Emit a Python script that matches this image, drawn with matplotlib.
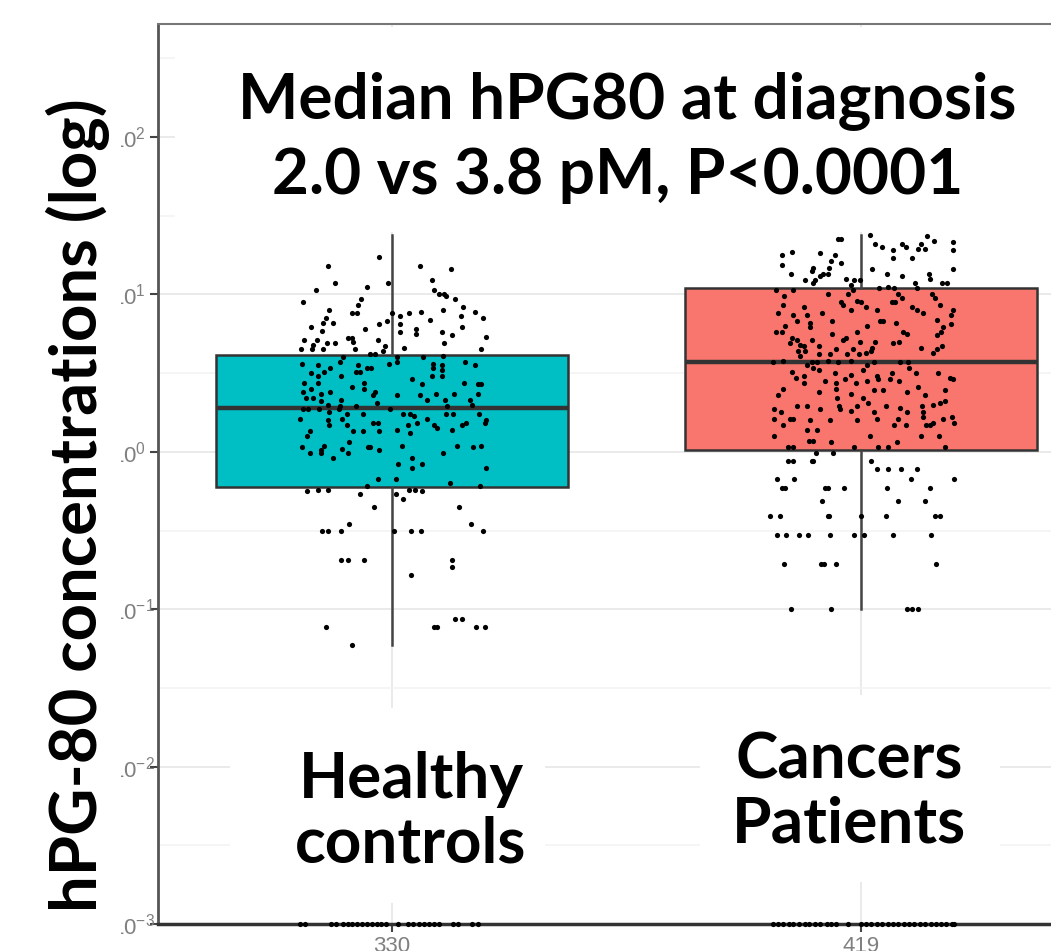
import numpy as np
import matplotlib
matplotlib.use("Agg")
import matplotlib.pyplot as plt
from matplotlib.patches import Rectangle
from matplotlib.ticker import LogLocator, NullFormatter, FixedLocator

# groups
groups = ["Healthy\ncontrols", "Cancers\nPatients"]
counts = ["330", "419"]
box_colors = ["#00BFC4", "#F8766D"]

# box statistics (pM)
q1 = [0.60, 1.03]
med = [1.9, 3.7]
q3 = [4.1, 11.0]
whis_lo = [0.059, 0.10]
whis_hi = [24.0, 24.0]

# jittered points: horizontal jitter offset and log10(pM)
healthy_dx = [
    -0.028, -0.136, 0.060, 0.126, -0.121, -0.009, 0.085, -0.162, -0.053, 0.089,
    0.100, 0.111, 0.115, 0.134, -0.066, -0.189, -0.072, 0.151, -0.134, -0.085,
    -0.074, 0.036, 0.062, 0.109, 0.177, 0.194, -0.140, 0.147, 0.017, 0.000,
    0.081, -0.147, -0.126, -0.028, -0.011, 0.017, -0.172, -0.149, -0.057, 0.051,
    0.149, 0.051, 0.106, 0.128, 0.017, 0.200, -0.094, -0.085, -0.187, -0.160,
    -0.121, -0.138, -0.030, -0.083, 0.111, -0.168, -0.194, -0.170, -0.147, -0.079,
    -0.015, -0.019, 0.026, 0.189, -0.047, -0.036, -0.104, 0.011, 0.066, 0.109,
    -0.191, -0.157, -0.132, -0.111, -0.072, -0.053, -0.045, -0.006, 0.011, 0.087,
    0.106, 0.155, 0.177, -0.145, -0.077, -0.068, 0.087, 0.106, -0.172, -0.157,
    -0.157, 0.085, 0.106, 0.043, -0.109, -0.187, -0.060, 0.183, 0.189, 0.153,
    0.064, -0.172, -0.085, -0.060, -0.132, -0.189, -0.151, -0.036, 0.011, 0.060,
    0.094, 0.132, 0.183, -0.183, -0.168, -0.109, -0.040, 0.074, 0.113, 0.166,
    -0.151, -0.032, -0.136, -0.111, -0.077, 0.117, 0.170, -0.189, -0.179, -0.155,
    -0.113, -0.004, 0.038, 0.047, 0.023, 0.115, 0.130, -0.096, -0.062, -0.134,
    0.185, -0.196, -0.136, -0.106, -0.040, -0.030, 0.053, 0.074, 0.157, 0.198,
    -0.134, -0.096, 0.149, 0.034, 0.089, 0.096, 0.128, 0.200, -0.174, -0.083,
    -0.062, 0.011, -0.181, -0.028, 0.038,
    -0.191, -0.174, -0.151, -0.145, -0.151, -0.126, -0.106, -0.094, -0.091, -0.051,
    -0.047, -0.028, 0.021, 0.013, 0.043, 0.043, 0.064, 0.109, 0.138, 0.172,
    0.189, 0.200, -0.030, 0.009, -0.053, 0.123, 0.187,
    -0.181, -0.157, -0.136, -0.068, -0.038, 0.009, 0.023, 0.036, 0.049, 0.064,
    0.143, -0.149, -0.136, -0.109, -0.091, 0.004, 0.040, 0.062, 0.168, 0.194,
    -0.109, -0.094, -0.060, 0.128, 0.128, 0.040, 0.134, 0.149, -0.140, 0.089,
    0.096, 0.179, 0.198, -0.085,
]
healthy_log = [
    1.24, 1.18, 1.18, 1.16, 1.07, 1.07, 1.09, 1.03, 1.05, 1.03,
    1.00, 1.00, 0.99, 0.97, 0.97, 0.95, 0.93, 0.92, 0.90, 0.88,
    0.88, 0.88, 0.89, 0.90, 0.89, 0.85, 0.85, 0.86, 0.86, 0.88,
    0.84, 0.82, 0.82, 0.81, 0.83, 0.81, 0.79, 0.77, 0.78, 0.78,
    0.79, 0.75, 0.76, 0.74, 0.76, 0.73, 0.72, 0.72, 0.71, 0.71,
    0.69, 0.69, 0.71, 0.70, 0.69, 0.68, 0.65, 0.65, 0.65, 0.65,
    0.67, 0.64, 0.66, 0.65, 0.62, 0.62, 0.60, 0.60, 0.60, 0.61,
    0.56, 0.55, 0.53, 0.57, 0.55, 0.53, 0.53, 0.56, 0.57, 0.56,
    0.55, 0.57, 0.55, 0.51, 0.51, 0.51, 0.53, 0.52, 0.50, 0.48,
    0.44, 0.48, 0.48, 0.46, 0.48, 0.44, 0.44, 0.43, 0.43, 0.44,
    0.43, 0.40, 0.41, 0.40, 0.38, 0.38, 0.37, 0.38, 0.36, 0.36,
    0.37, 0.37, 0.37, 0.34, 0.34, 0.33, 0.36, 0.33, 0.33, 0.33,
    0.32, 0.31, 0.30, 0.29, 0.29, 0.29, 0.30, 0.27, 0.27, 0.27,
    0.27, 0.27, 0.24, 0.23, 0.24, 0.24, 0.24, 0.24, 0.24, 0.25,
    0.24, 0.21, 0.20, 0.21, 0.18, 0.18, 0.18, 0.21, 0.18, 0.18,
    0.17, 0.17, 0.17, 0.17, 0.17, 0.15, 0.14, 0.20, 0.13, 0.13,
    0.13, 0.14, 0.10, 0.13, 0.12,
    0.03, -0.01, -0.01, 0.04, 0.01, -0.04, 0.02, -0.01, 0.06, 0.03,
    0.03, 0.01, 0.04, -0.08, -0.04, -0.10, -0.08, -0.01, 0.04, 0.03,
    0.04, -0.10, -0.17, -0.17, -0.22, -0.20, -0.22,
    -0.25, -0.24, -0.24, -0.27, -0.35, -0.27, -0.30, -0.24, -0.24, -0.25,
    -0.35, -0.50, -0.50, -0.50, -0.46, -0.50, -0.50, -0.50, -0.46, -0.50,
    -0.69, -0.69, -0.69, -0.69, -0.73, -0.78, -1.06, -1.06, -1.11, -1.11,
    -1.11, -1.11, -1.11, -1.23,
]
cancer_dx = [
    -0.049, -0.043, 0.019, 0.140, 0.155, 0.196, 0.196, 0.030, 0.043, 0.087,
    0.096, 0.128, 0.121, 0.136, 0.068, 0.068, 0.109, -0.147, -0.168, -0.087,
    -0.057, -0.170, -0.064, -0.043, -0.068, -0.102, -0.106, 0.196, 0.023, -0.149,
    -0.081, -0.070, -0.089, 0.055, 0.087, 0.145, 0.147, -0.119, -0.098, -0.032,
    -0.015, -0.002, 0.115, 0.172, 0.183, -0.102, -0.181, -0.145, -0.023, -0.028,
    -0.017, 0.038, 0.057, 0.070, 0.079, 0.087, 0.119, 0.151, -0.070, -0.164,
    -0.009, -0.043, 0.000, 0.066, 0.072, 0.157, -0.166, -0.123, -0.038, -0.023,
    0.011, 0.109, 0.119, 0.168, -0.177, -0.145, -0.115, -0.083, 0.034, 0.132,
    0.196, 0.191, -0.136, -0.109, -0.062, 0.040, 0.047, 0.074, 0.191, 0.162,
    -0.162, 0.013, -0.109, 0.174, -0.181, -0.168, -0.062, -0.009, 0.089, 0.098,
    0.170, -0.147, -0.136, -0.106, -0.032, -0.038, -0.002, 0.030, 0.068, 0.081,
    0.162, -0.151, -0.130, -0.123, -0.091, -0.053, -0.017, 0.023, 0.128, 0.172,
    -0.134, -0.119, -0.091, -0.066, -0.030, -0.006, 0.011, 0.021, 0.153, 0.162,
    -0.130, -0.166, -0.189, -0.106, -0.094, -0.072, -0.049, -0.023, 0.013, 0.026,
    0.083, 0.100, -0.115, -0.102, -0.091, 0.004, 0.066, 0.102, 0.117, -0.147,
    -0.123, -0.055, -0.023, 0.034, 0.062, 0.189, 0.164, -0.140, -0.123, -0.077,
    -0.034, -0.011, 0.013, 0.036, 0.081, 0.196, -0.166, -0.053, -0.053, 0.121,
    0.179, -0.091, 0.026, 0.047, 0.098, -0.177, -0.023, 0.004, 0.136, -0.051,
    -0.138, -0.115, -0.047, -0.045, -0.009, 0.015, 0.053, 0.083, 0.130, 0.153,
    0.168, 0.179, -0.187, -0.172, -0.087, -0.023, 0.026, 0.098, 0.132, 0.194,
    0.174, -0.151, -0.145, -0.109, -0.066, -0.009, 0.034, 0.079, 0.132, -0.187,
    -0.166, 0.070, 0.096, 0.138, 0.147, 0.153, 0.198, -0.187, -0.115, -0.094,
    -0.111, -0.102, -0.064, 0.019, 0.077, 0.128, 0.166, -0.157, -0.145, -0.015,
    0.036, 0.057, 0.179, -0.096, -0.060, -0.157, -0.145, -0.106, -0.102, 0.021,
    0.034, 0.057, 0.085, 0.119, -0.179, -0.143, 0.106, 0.198, -0.168, -0.162,
    -0.077, -0.070, -0.036, 0.055, 0.147, -0.083, 0.079, 0.136, -0.194, -0.174,
    -0.072, -0.068, 0.000, 0.053, 0.157, 0.168, -0.179, -0.160, -0.132, -0.113,
    -0.066, -0.015, 0.006, 0.068, 0.149, -0.164, -0.085, -0.079, -0.053, 0.160,
    -0.149, -0.064, 0.098, 0.109, 0.121,
]
cancer_log = [
    1.35, 1.35, 1.38, 1.37, 1.34, 1.33, 1.28, 1.32, 1.30, 1.32,
    1.30, 1.32, 1.29, 1.29, 1.28, 1.23, 1.23, 1.27, 1.25, 1.26,
    1.25, 1.19, 1.21, 1.20, 1.17, 1.17, 1.15, 1.16, 1.16, 1.13,
    1.13, 1.13, 1.12, 1.13, 1.12, 1.13, 1.10, 1.09, 1.09, 1.10,
    1.09, 1.09, 1.07, 1.07, 1.07, 1.07, 1.03, 1.03, 1.06, 1.00,
    1.03, 1.04, 1.05, 1.04, 1.00, 0.98, 1.04, 1.00, 1.00, 0.99,
    0.96, 0.95, 0.95, 0.95, 0.95, 0.98, 0.93, 0.92, 0.93, 0.90,
    0.92, 0.92, 0.90, 0.93, 0.88, 0.87, 0.87, 0.88, 0.90, 0.88,
    0.90, 0.87, 0.83, 0.82, 0.83, 0.83, 0.83, 0.82, 0.81, 0.84,
    0.80, 0.80, 0.79, 0.79, 0.76, 0.76, 0.75, 0.76, 0.76, 0.75,
    0.76, 0.72, 0.71, 0.71, 0.72, 0.71, 0.70, 0.70, 0.69, 0.70,
    0.74, 0.69, 0.68, 0.67, 0.67, 0.65, 0.65, 0.66, 0.66, 0.67,
    0.64, 0.64, 0.62, 0.62, 0.62, 0.62, 0.63, 0.64, 0.63, 0.65,
    0.61, 0.58, 0.57, 0.57, 0.57, 0.58, 0.57, 0.58, 0.55, 0.57,
    0.57, 0.57, 0.55, 0.53, 0.52, 0.52, 0.50, 0.53, 0.50, 0.51,
    0.48, 0.50, 0.49, 0.48, 0.46, 0.47, 0.50, 0.47, 0.44, 0.45,
    0.46, 0.44, 0.45, 0.46, 0.45, 0.46, 0.40, 0.44, 0.40, 0.41,
    0.39, 0.38, 0.39, 0.39, 0.38, 0.36, 0.37, 0.34, 0.36, 0.34,
    0.29, 0.29, 0.29, 0.27, 0.29, 0.31, 0.29, 0.28, 0.29, 0.30,
    0.31, 0.32, 0.27, 0.25, 0.27, 0.26, 0.25, 0.25, 0.25, 0.22,
    0.21, 0.21, 0.21, 0.20, 0.20, 0.20, 0.21, 0.21, 0.22, 0.21,
    0.17, 0.17, 0.17, 0.17, 0.17, 0.18, 0.18, 0.10, 0.14, 0.14,
    0.07, 0.07, 0.06, 0.10, 0.06, 0.10, 0.10, 0.03, 0.03, 0.03,
    0.03, 0.03, 0.03, -0.01, -0.01, -0.06, -0.06, -0.06, -0.06, -0.06,
    -0.11, -0.11, -0.11, -0.11, -0.17, -0.17, -0.17, -0.17, -0.23, -0.23,
    -0.23, -0.23, -0.23, -0.23, -0.23, -0.31, -0.31, -0.31, -0.41, -0.41,
    -0.41, -0.41, -0.41, -0.41, -0.41, -0.41, -0.53, -0.53, -0.53, -0.53,
    -0.53, -0.53, -0.53, -0.53, -0.53, -0.71, -0.71, -0.71, -0.71, -0.71,
    -1.00, -1.00, -1.00, -1.00, -1.00,
]
# undetectable values, shown at the floor of the axis (0.001 pM)
floor_value = 0.001
healthy_floor_dx = [-0.196, -0.185, -0.130, -0.119, -0.104, -0.094, -0.085, -0.074, -0.064,
                    -0.053, -0.043, -0.032, -0.023, -0.013, 0.013, 0.034, 0.045, 0.057,
                    0.068, 0.079, 0.089, 0.100, 0.130, 0.140, 0.170, 0.183]
cancer_floor_dx = [-0.189, -0.177, -0.166, -0.155, -0.145, -0.132, -0.121, -0.111, -0.098,
                   -0.087, -0.074, -0.064, -0.053, -0.028, 0.000, 0.011, 0.021, 0.034,
                   0.045, 0.057, 0.068, 0.079, 0.091, 0.102, 0.113, 0.126, 0.136, 0.149,
                   0.160, 0.170, 0.181, 0.194, 0.198]

W, H = 1051.0, 951.0
fig = plt.figure(figsize=(W / 100, H / 100), dpi=100)
ax = fig.add_axes([158 / W, 1 - 924 / H, 1 - 158 / W, 900 / H])

ax.set_yscale('log')
ax.set_ylim(1e-3, 10 ** 2.718)
ax.set_xlim(0.502, 2.404)

# boxes
stats = []
for i in range(2):
    stats.append(dict(med=med[i], q1=q1[i], q3=q3[i], whislo=whis_lo[i],
                      whishi=whis_hi[i], fliers=[]))
bp = ax.bxp(stats, positions=[1, 2], widths=0.75, patch_artist=True,
            showcaps=False, showfliers=False,
            boxprops=dict(edgecolor='#333333', linewidth=1.8),
            medianprops=dict(color='#333333', linewidth=3.2),
            whiskerprops=dict(color='#444444', linewidth=1.8))
for patch, col in zip(bp['boxes'], box_colors):
    patch.set_facecolor(col)
    patch.set_zorder(2)

# points
pt = dict(s=14, c='black', linewidths=0)
ax.scatter(1 + np.array(healthy_dx), 10 ** np.array(healthy_log), zorder=3, **pt)
ax.scatter(2 + np.array(cancer_dx), 10 ** np.array(cancer_log), zorder=3, **pt)
ax.scatter(1 + np.array(healthy_floor_dx), [floor_value] * len(healthy_floor_dx),
           zorder=4, clip_on=False, **pt)
ax.scatter(2 + np.array(cancer_floor_dx), [floor_value] * len(cancer_floor_dx),
           zorder=4, clip_on=False, **pt)

# axes styling
ax.yaxis.set_major_locator(FixedLocator([1e-3, 1e-2, 1e-1, 1, 10, 100]))
ax.yaxis.set_minor_locator(LogLocator(base=10, subs=[10 ** 0.5]))
ax.yaxis.set_minor_formatter(NullFormatter())
ax.set_xticks([1, 2])
ax.set_xticklabels(counts)
ax.grid(True, which='major', color='#e8e8e8', linewidth=1.3)
ax.grid(True, which='minor', axis='y', color='#f2f2f2', linewidth=1.1)
ax.set_axisbelow(True)
ax.tick_params(axis='both', which='major', length=6, width=1.5, color='#444444',
               labelcolor='#808080', labelsize=16)
ax.tick_params(axis='x', which='major', pad=3)
# y labels start at a fixed left edge (the leading "1" sits under the title strip)
ax.tick_params(axis='y', which='major', pad=28)
ax.tick_params(axis='y', which='minor', length=0)
for lab in ax.get_yticklabels():
    lab.set_horizontalalignment('left')
for lab in ax.get_xticklabels() + ax.get_yticklabels():
    lab.set_fontfamily('Liberation Sans')
ax.spines['right'].set_visible(False)
ax.spines['top'].set_color('#777777')
ax.spines['top'].set_linewidth(1.5)
ax.spines['left'].set_color('#555555')
ax.spines['left'].set_linewidth(2)
ax.spines['bottom'].set_color('#333333')
ax.spines['bottom'].set_linewidth(2.5)

# white panels under the overlaid labels
def cover(x0, y0, x1, y1):
    fig.add_artist(Rectangle((x0 / W, 1 - y1 / H), (x1 - x0) / W, (y1 - y0) / H,
                             transform=fig.transFigure, facecolor='white',
                             edgecolor='none', zorder=2))

cover(0, 0, 121, H)
cover(175, 27, W, 232)
cover(230, 708, 545, 903)
cover(700, 695, 1000, 882)

big = dict(fontfamily='Lato', fontweight='bold', color='black', zorder=5)
fig.text(78 / W, 1 - 505 / H, 'hPG-80 concentrations (log)', rotation=90,
         ha='center', va='center', fontsize=47, **big)
fig.text(627 / W, 1 - 101 / H, 'Median hPG80 at diagnosis', ha='center',
         va='center', fontsize=46, **big)
fig.text(618 / W, 1 - 176 / H, '2.0 vs 3.8 pM, P<0.0001', ha='center',
         va='center', fontsize=46, **big)
fig.text(411 / W, 1 - 812 / H, groups[0], ha='center', va='center',
         fontsize=46, linespacing=1.15, **big)
fig.text(849 / W, 1 - 792 / H, groups[1], ha='center', va='center',
         fontsize=46, linespacing=1.15, **big)

fig.savefig('out.png', dpi=100)
